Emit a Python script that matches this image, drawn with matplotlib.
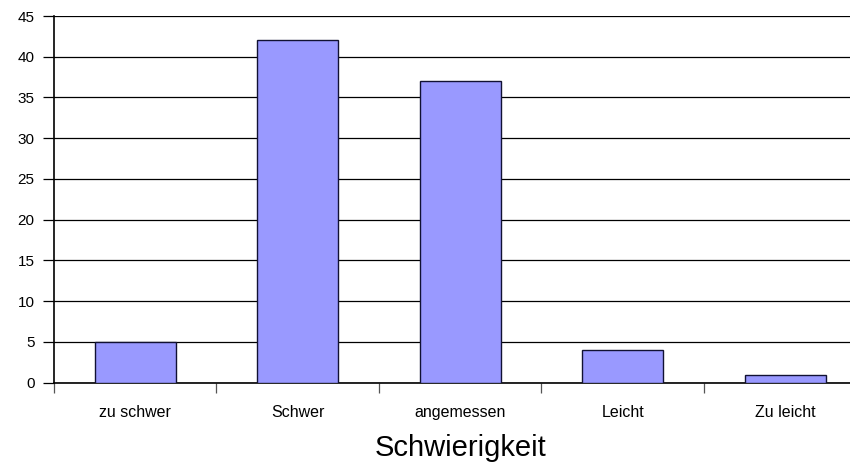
import numpy as np
import matplotlib
matplotlib.use("Agg")
import matplotlib.pyplot as plt

# --- data ---
categories = ["zu schwer", "Schwer", "angemessen", "Leicht", "Zu leicht"]
counts = [5, 42, 37, 4, 1]
y_ticks = [0, 5, 10, 15, 20, 25, 30, 35, 40, 45]

plt.rcParams["font.family"] = ["Liberation Sans", "DejaVu Sans"]

fig = plt.figure(figsize=(8.5, 4.66), dpi=100)
# axes runs off the right edge like in the original export
ax = fig.add_axes([54 / 850, 1 - 382.7 / 466, 1 - 54 / 850, (382.7 - 16) / 466])

x = np.arange(len(categories))
ax.bar(x, counts, width=0.5, color="#9999ff", edgecolor="#111133", linewidth=1.0, zorder=3)

ax.set_ylim(0, 45)
ax.set_yticks(y_ticks)
ax.yaxis.grid(True, color="black", linewidth=0.9, zorder=0)
ax.set_axisbelow(True)
ax.tick_params(axis="y", length=8, width=0.9, pad=6, labelsize=11)

# category boundaries get tick marks, centres get the labels
ax.set_xticks(np.arange(len(categories) + 1) - 0.5)
ax.set_xticklabels([])
ax.tick_params(axis="x", which="major", length=7.5, width=0.9, color="#555555")
ax.set_xticks(x, minor=True)
ax.set_xticklabels(categories, minor=True)
ax.tick_params(axis="x", which="minor", length=0, pad=16, labelsize=11.5)
# set limits after the ticks, set_xticks would widen them again
xmax = -0.5 + (850 - 54) / 162.5
ax.set_xlim(-0.5, xmax)

for side in ["top", "right"]:
    ax.spines[side].set_visible(False)
ax.spines["left"].set_linewidth(1.2)
ax.spines["bottom"].set_linewidth(1.2)

ax.set_xlabel("Schwierigkeit", fontsize=21)
# keep the title centred over the five categories, not the clipped axes
ax.xaxis.set_label_coords((2 + 0.5) / (xmax + 0.5), -0.14)

fig.savefig("out.png", dpi=100)
